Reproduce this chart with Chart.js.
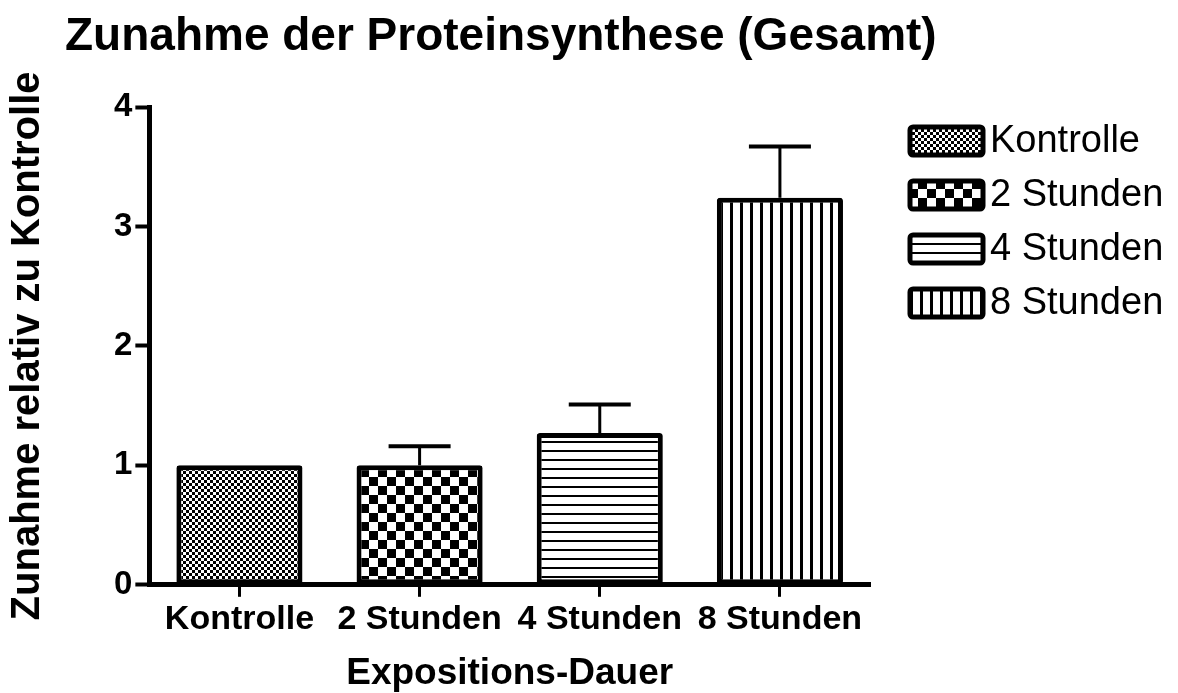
<!DOCTYPE html>
<html>
<head>
<meta charset="utf-8">
<script src="https://cdn.jsdelivr.net/npm/chart.js@4"></script>
<style>
  html, body { margin: 0; padding: 0; background: #fff; }
  #wrap { width: 1178px; height: 693px; }
</style>
</head>
<body>
<div id="wrap"><canvas id="chart" width="1178" height="693"></canvas></div>
<script>
const CATEGORIES = ['Kontrolle', '2 Stunden', '4 Stunden', '8 Stunden'];
const MEANS = [1.0, 1.0, 1.27, 3.24];
const SEM_UP = [0, 0.16, 0.24, 0.43];
const Y_TICKS = [0, 1, 2, 3, 4];

const TITLE = 'Zunahme der Proteinsynthese (Gesamt)';
const FONT = '"Liberation Sans", Arial, sans-serif';

// Black/white fill patterns, one per exposure time.
function makePattern(w, h, paint) {
    const c = document.createElement('canvas');
    c.width = w; c.height = h;
    const g = c.getContext('2d');
    g.fillStyle = '#fff';
    g.fillRect(0, 0, w, h);
    g.fillStyle = '#000';
    paint(g);
    return g.createPattern(c, 'repeat');
}

const PATTERNS = [
    makePattern(6, 6, g => { g.fillRect(0, 0, 3, 3); g.fillRect(3, 3, 3, 3); }),
    makePattern(18, 18, g => { g.fillRect(0, 0, 9, 9); g.fillRect(9, 9, 9, 9); }),
    makePattern(9, 9, g => { g.fillRect(0, 0, 9, 2); }),
    makePattern(10, 10, g => { g.fillRect(0, 0, 3, 10); }),
];

// Upper error whiskers, drawn from the bar top to mean + SEM.
const errorBars = {
    id: 'errorBars',
    afterDatasetsDraw(chart) {
        const { ctx, scales: { y } } = chart;
        const meta = chart.getDatasetMeta(0);
        ctx.save();
        ctx.strokeStyle = '#000';
        meta.data.forEach((bar, i) => {
            if (!SEM_UP[i]) return;
            const yBar = y.getPixelForValue(MEANS[i]);
            const yTop = y.getPixelForValue(MEANS[i] + SEM_UP[i]);
            ctx.lineWidth = 3;
            ctx.beginPath();
            ctx.moveTo(bar.x, yBar);
            ctx.lineTo(bar.x, yTop);
            ctx.stroke();
            ctx.lineWidth = 4;
            ctx.beginPath();
            ctx.moveTo(bar.x - 31, yTop);
            ctx.lineTo(bar.x + 31, yTop);
            ctx.stroke();
        });
        ctx.restore();
    },
};

// Heading and pattern legend on the right.
const headingAndLegend = {
    id: 'headingAndLegend',
    afterDraw(chart) {
        const ctx = chart.ctx;
        ctx.save();
        ctx.fillStyle = '#000';
        ctx.font = `bold 46px ${FONT}`;
        ctx.textBaseline = 'alphabetic';
        ctx.fillText(TITLE, 65, 50);

        ctx.font = `38px ${FONT}`;
        ctx.textBaseline = 'middle';
        CATEGORIES.forEach((label, i) => {
            const top = 127 + i * 54;
            ctx.beginPath();
            ctx.roundRect(910, top, 73, 28, 3);
            ctx.fillStyle = PATTERNS[i];
            ctx.fill();
            ctx.lineWidth = 5;
            ctx.strokeStyle = '#000';
            ctx.stroke();
            ctx.fillStyle = '#000';
            ctx.fillText(label, 990, top + 15);
        });
        ctx.restore();
    },
};

new Chart(document.getElementById('chart'), {
    type: 'bar',
    data: {
        labels: CATEGORIES,
        datasets: [{
            data: MEANS,
            backgroundColor: PATTERNS,
            borderColor: '#000',
            borderWidth: 5,
            borderRadius: 3,
            borderSkipped: false,
            barPercentage: 0.7,
            categoryPercentage: 1.0,
        }],
    },
    options: {
        responsive: false,
        animation: false,
        layout: { padding: { top: 107, left: 4, right: 308, bottom: 0 } },
        plugins: {
            legend: { display: false },
            tooltip: { enabled: false },
        },
        scales: {
            x: {
                grid: { offset: false, drawOnChartArea: false, tickLength: 12, tickWidth: 3, tickColor: '#000' },
                border: { color: '#000', width: 5 },
                ticks: { color: '#000', font: { family: FONT, size: 34, weight: 'bold' }, padding: 2, maxRotation: 0, autoSkip: false },
                title: {
                    display: true, text: 'Expositions-Dauer', color: '#000',
                    font: { family: FONT, size: 37, weight: 'bold' }, padding: { top: 10, bottom: -3 },
                },
            },
            y: {
                min: 0, max: 4,
                afterBuildTicks: s => { s.ticks = Y_TICKS.map(v => ({ value: v })); },
                grid: { drawOnChartArea: false, tickLength: 14, tickWidth: 4, tickColor: '#000' },
                border: { color: '#000', width: 5 },
                ticks: { color: '#000', font: { family: FONT, size: 33, weight: 'bold' }, padding: 3 },
                title: {
                    display: true, text: 'Zunahme relativ zu Kontrolle', color: '#000',
                    font: { family: FONT, size: 40, weight: 'bold' }, padding: { top: 0, bottom: 59 },
                },
            },
        },
    },
    plugins: [errorBars, headingAndLegend],
});
</script>
</body>
</html>
